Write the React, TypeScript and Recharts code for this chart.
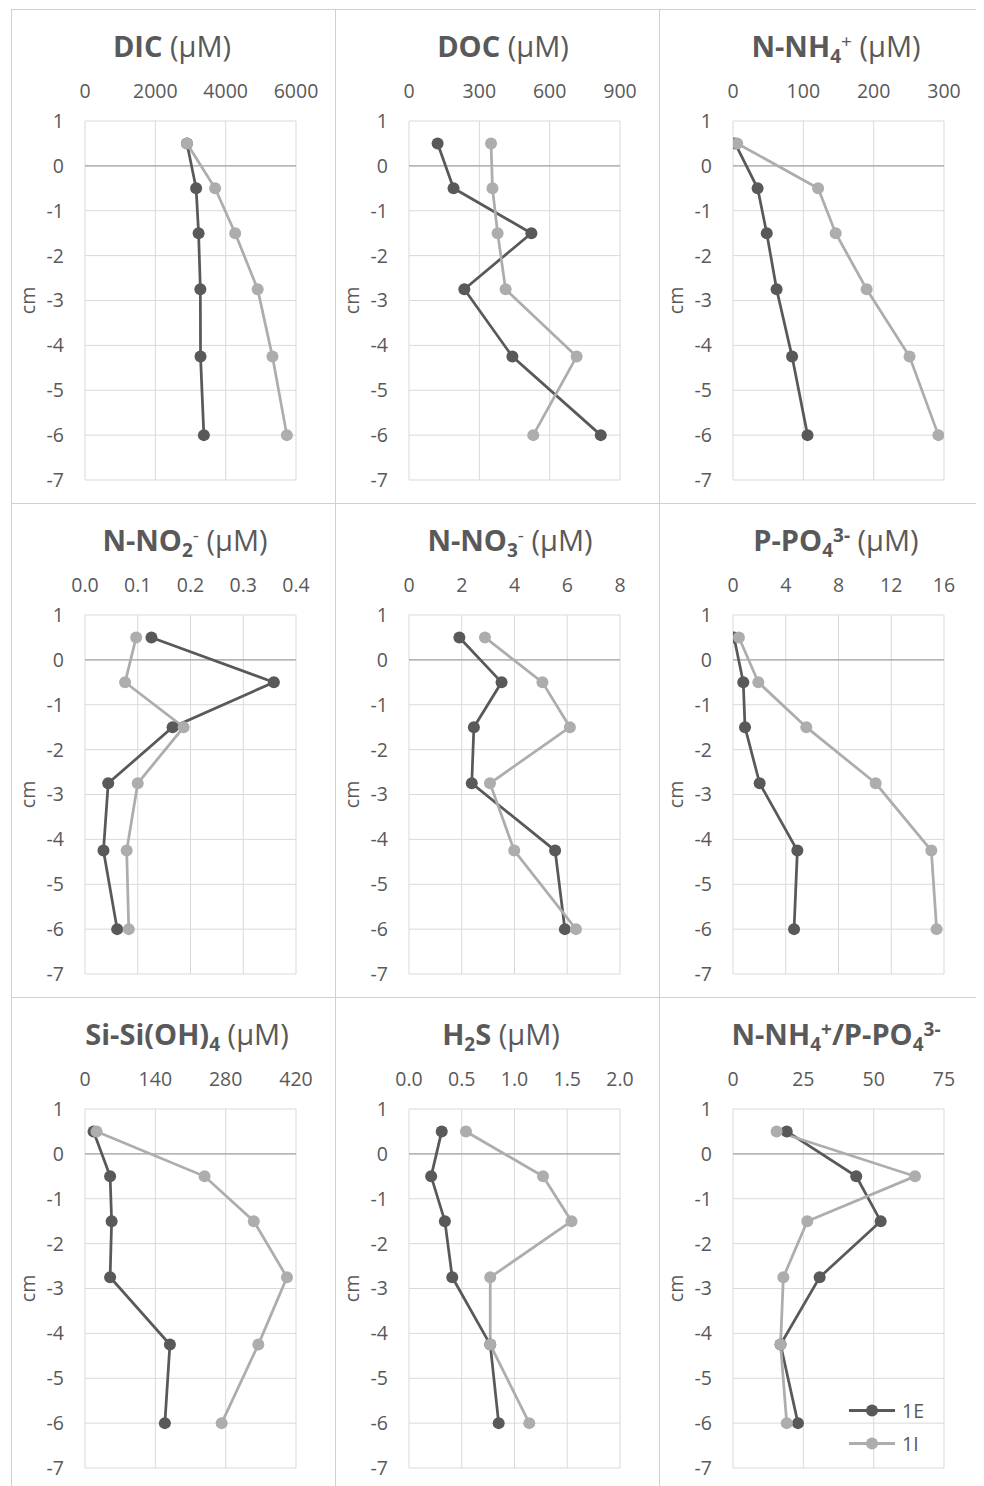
import React from 'react';
import { LineChart, Line, XAxis, YAxis, CartesianGrid, ReferenceLine, Legend } from 'recharts';

// depth of each sample (cm), shared by every panel
const depth = [0.5, -0.5, -1.5, -2.75, -4.25, -6];
const depthTicks = [1, 0, -1, -2, -3, -4, -5, -6, -7];

const dicE = [2900, 3160, 3230, 3280, 3285, 3380];
const dicI = [2900, 3700, 4270, 4910, 5330, 5740];
const dicTicks = [0, 2000, 4000, 6000];

const docE = [122, 190, 522, 236, 441, 818];
const docI = [350, 356, 378, 412, 715, 530];
const docTicks = [0, 300, 600, 900];

const nh4E = [3, 35, 48, 62, 84, 106];
const nh4I = [6, 121, 146, 190, 251, 292];
const nh4Ticks = [0, 100, 200, 300];

const no2E = [0.126, 0.358, 0.166, 0.044, 0.035, 0.061];
const no2I = [0.097, 0.076, 0.187, 0.1, 0.079, 0.083];
const no2Ticks = [0, 0.1, 0.2, 0.3, 0.4];

const no3E = [1.91, 3.51, 2.46, 2.38, 5.54, 5.91];
const no3I = [2.88, 5.06, 6.1, 3.07, 3.99, 6.33];
const no3Ticks = [0, 2, 4, 6, 8];

const po4E = [0.08, 0.78, 0.91, 2.02, 4.88, 4.63];
const po4I = [0.45, 1.92, 5.56, 10.82, 15.04, 15.44];
const po4Ticks = [0, 4, 8, 12, 16];

const siE = [17, 50, 53, 50, 169, 159];
const siI = [23, 238, 336, 402, 345, 272];
const siTicks = [0, 140, 280, 420];

const h2sE = [0.31, 0.21, 0.34, 0.41, 0.77, 0.85];
const h2sI = [0.54, 1.27, 1.54, 0.77, 0.77, 1.14];
const h2sTicks = [0, 0.5, 1, 1.5, 2];

const ratioE = [19.1, 43.8, 52.5, 30.8, 16.9, 23.1];
const ratioI = [15.5, 64.7, 26.4, 17.9, 16.9, 19.1];
const ratioTicks = [0, 25, 50, 75];

const DARK = '#595959';
const LIGHT = '#ADADAD';
const TEXT = '#595959';
const FONT = '"Open Sans", sans-serif';

const subStyle: React.CSSProperties = { fontSize: 19, verticalAlign: -6, lineHeight: 0 };
const supStyle: React.CSSProperties = { fontSize: 19, verticalAlign: 9, lineHeight: 0 };
const unit = <span style={{ fontWeight: 400 }}> (µM)</span>;

const panels = [
  { title: <><b>DIC</b>{unit}</>, cx: 161, e: dicE, i: dicI, ticks: dicTicks, dec: 0 },
  { title: <><b>DOC</b>{unit}</>, cx: 168, e: docE, i: docI, ticks: docTicks, dec: 0 },
  {
    title: <><b>N-NH<sub style={subStyle}>4</sub></b><sup style={supStyle}>+</sup>{unit}</>,
    cx: 177, e: nh4E, i: nh4I, ticks: nh4Ticks, dec: 0,
  },
  {
    title: <><b>N-NO<sub style={subStyle}>2</sub></b><sup style={supStyle}>-</sup>{unit}</>,
    cx: 174, e: no2E, i: no2I, ticks: no2Ticks, dec: 1,
  },
  {
    title: <><b>N-NO<sub style={subStyle}>3</sub></b><sup style={supStyle}>-</sup>{unit}</>,
    cx: 175, e: no3E, i: no3I, ticks: no3Ticks, dec: 0,
  },
  {
    title: <><b>P-PO<sub style={subStyle}>4</sub><sup style={supStyle}>3-</sup></b>{unit}</>,
    cx: 177, e: po4E, i: po4I, ticks: po4Ticks, dec: 0,
  },
  {
    title: <><b>Si-Si(OH)<sub style={subStyle}>4</sub></b>{unit}</>,
    cx: 176, e: siE, i: siI, ticks: siTicks, dec: 0,
  },
  {
    title: <><b>H<sub style={subStyle}>2</sub>S</b>{unit}</>,
    cx: 166, e: h2sE, i: h2sI, ticks: h2sTicks, dec: 1,
  },
  {
    title: (
      <b>
        N-NH<sub style={subStyle}>4</sub><sup style={supStyle}>+</sup>/P-PO<sub style={subStyle}>4</sub>
        <sup style={supStyle}>3-</sup>
      </b>
    ),
    cx: 177, e: ratioE, i: ratioI, ticks: ratioTicks, dec: 0,
  },
];

const colLefts = [3, 327, 651];
const rowTops = [1, 495, 989];

const tickStyle = { fill: TEXT, fontSize: 19.5, fontFamily: FONT };

function CmLabel(props: any) {
  const vb = props.viewBox || {};
  const cy = vb.height ? vb.y + vb.height / 2 : 291.5;
  return (
    <text
      x={24}
      y={cy}
      transform={`rotate(-90 24 ${cy})`}
      textAnchor="middle"
      fill={TEXT}
      fontSize={19.5}
      fontFamily={FONT}
    >
      cm
    </text>
  );
}

function LegendContent(props: any) {
  const payload = props.payload || [];
  return (
    <div style={{ fontFamily: FONT, fontSize: 19.5, color: TEXT }}>
      {payload.map((item: any) => (
        <div key={item.value} style={{ display: 'flex', alignItems: 'center', height: 33 }}>
          <svg width={46} height={33}>
            <line x1={0} x2={46} y1={16.5} y2={16.5} stroke={item.color} strokeWidth={3} />
            <circle cx={23} cy={16.5} r={6} fill={item.color} />
          </svg>
          <span style={{ marginLeft: 7 }}>{item.value}</span>
        </div>
      ))}
    </div>
  );
}

function Panel({ p, left, top, showLegend }: any) {
  const data = depth.map((d, k) => ({ depth: d, e: p.e[k], i: p.i[k] }));
  const max = p.ticks[p.ticks.length - 1];
  return (
    <div style={{ position: 'absolute', left, top, width: 324, height: 495 }}>
      <div
        style={{
          position: 'absolute',
          left: 0,
          top: 0,
          width: 325,
          height: 495,
          border: '1px solid #d0d0d0',
          boxSizing: 'border-box',
        }}
      />
      <div
        style={{
          position: 'absolute',
          left: p.cx,
          top: 22,
          transform: 'translateX(-50%)',
          whiteSpace: 'nowrap',
          fontFamily: FONT,
          fontSize: 29,
          lineHeight: '29px',
          color: TEXT,
        }}
      >
        {p.title}
      </div>
      <div style={{ position: 'absolute', left: 0, top: 0 }}>
        <LineChart
          layout="vertical"
          width={324}
          height={495}
          data={data}
          margin={{ top: 0, right: 39, bottom: 24, left: 0 }}
        >
          <CartesianGrid stroke="#d9d9d9" />
          <XAxis
            type="number"
            orientation="top"
            domain={[0, max]}
            ticks={p.ticks}
            interval={0}
            height={112}
            axisLine={false}
            tickLine={false}
            tickSize={0}
            tickMargin={23}
            tick={tickStyle}
            tickFormatter={(v: number) => v.toFixed(p.dec)}
            allowDataOverflow
          />
          <YAxis
            type="number"
            dataKey="depth"
            domain={[-7, 1]}
            ticks={depthTicks}
            interval={0}
            reversed
            width={74}
            axisLine={false}
            tickLine={false}
            tickSize={0}
            tickMargin={21}
            tick={tickStyle}
            label={(lp: any) => <CmLabel {...lp} />}
          />
          <ReferenceLine y={0} stroke="#a6a6a6" strokeWidth={1.3} />
          <Line
            dataKey="e"
            name="1E"
            stroke={DARK}
            strokeWidth={2.75}
            dot={{ r: 6, fill: DARK, stroke: DARK, strokeWidth: 0 }}
            isAnimationActive={false}
          />
          <Line
            dataKey="i"
            name="1I"
            stroke={LIGHT}
            strokeWidth={2.75}
            dot={{ r: 6, fill: LIGHT, stroke: LIGHT, strokeWidth: 0 }}
            isAnimationActive={false}
          />
          {showLegend && (
            <Legend
              layout="vertical"
              align="center"
              verticalAlign="middle"
              content={(lp: any) => <LegendContent {...lp} />}
              wrapperStyle={{ left: 190, top: 397, width: 90, height: 66 }}
            />
          )}
        </LineChart>
      </div>
    </div>
  );
}

export default function App() {
  return (
    <div style={{ position: 'relative', width: 976, height: 1478, background: '#fff' }}>
      {panels.map((p, idx) => (
        <Panel
          key={idx}
          p={p}
          left={colLefts[idx % 3]}
          top={rowTops[Math.floor(idx / 3)]}
          showLegend={idx === 8}
        />
      ))}
    </div>
  );
}
